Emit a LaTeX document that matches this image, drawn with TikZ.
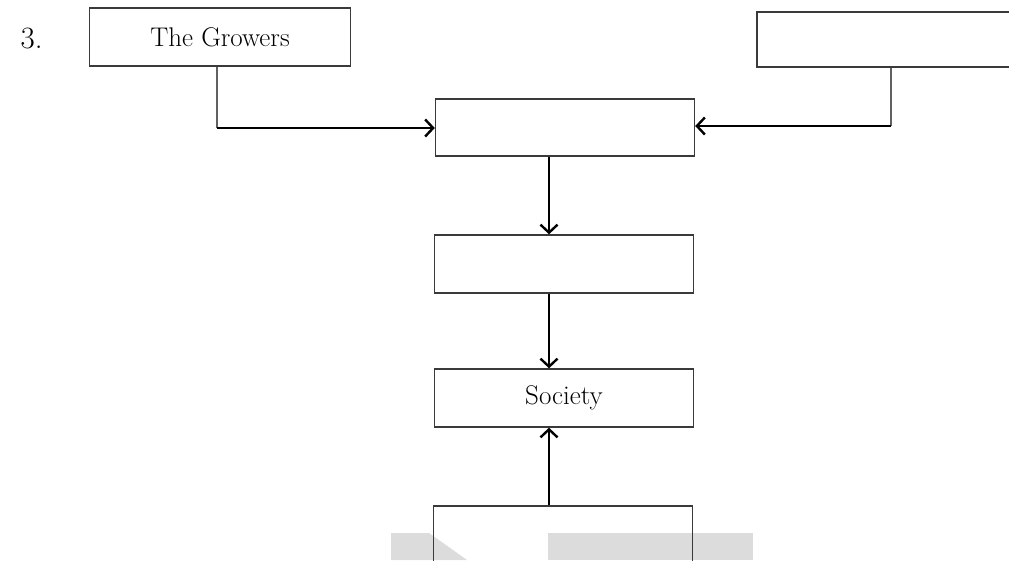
\documentclass[tikz,border=0pt]{standalone}
\usetikzlibrary{arrows.meta}
\definecolor{wm}{HTML}{DCDCDC}
\definecolor{boxline}{HTML}{3A3A3A}
\tikzset{
  flowbox/.style={draw=boxline, line width=1.4pt, minimum width=259pt, minimum height=57pt, inner sep=0pt, font=\fontsize{27}{31}\selectfont},
  feed/.style={draw=boxline!80, line width=1.5pt},
  flowarrow/.style={draw=black, line width=2.6pt, -{Straight Barb[length=8pt, width=17pt, line width=2.4pt]}},
}
\begin{document}
\begin{tikzpicture}[x=1pt, y=-1pt]
\useasboundingbox (0,0) rectangle (1009,560);
\clip (0,0) rectangle (1009,560);
% watermark
\fill[wm] (391,533) -- (429,533) -- (467,560) -- (391,560) -- cycle;
\fill[wm] (548,533) rectangle (753,560);
% label
\node[anchor=west, font=\fontsize{31}{35}\selectfont] (num) at (17,38) {3.};
% boxes
\node[flowbox, minimum width=261pt, minimum height=58pt] (grow) at (220,37) {The Growers};
\node[flowbox, minimum width=280pt, minimum height=55pt] (rbox) at (897,39.5) {};
\node[flowbox, minimum height=57pt] (c1) at (565,127.5) {};
\node[flowbox, minimum height=58pt] (c2) at (564,264) {};
\node[flowbox, minimum height=58pt] (soc) at (564,398) {Society};
\node[flowbox, minimum height=64pt] (bot) at (563,538) {};
% axis coordinates
\coordinate (ax) at (549,0);
\coordinate (gx) at (217,0);
\coordinate (rx) at (891,0);
\coordinate (gcorner) at (217,128);
\coordinate (rcorner) at (891,126);
% connectors from the top boxes
\draw[feed] (grow.south -| gx) -- (gcorner);
\draw[flowarrow] (gcorner) -- (c1.west |- gcorner);
\draw[feed] (rbox.south -| rx) -- (rcorner);
\draw[flowarrow] (rcorner) -- (c1.east |- rcorner);
% vertical chain
\draw[flowarrow] (c1.south -| ax) -- (c2.north -| ax);
\draw[flowarrow] (c2.south -| ax) -- (soc.north -| ax);
\draw[flowarrow] (bot.north -| ax) -- (soc.south -| ax);
\end{tikzpicture}
\end{document}
